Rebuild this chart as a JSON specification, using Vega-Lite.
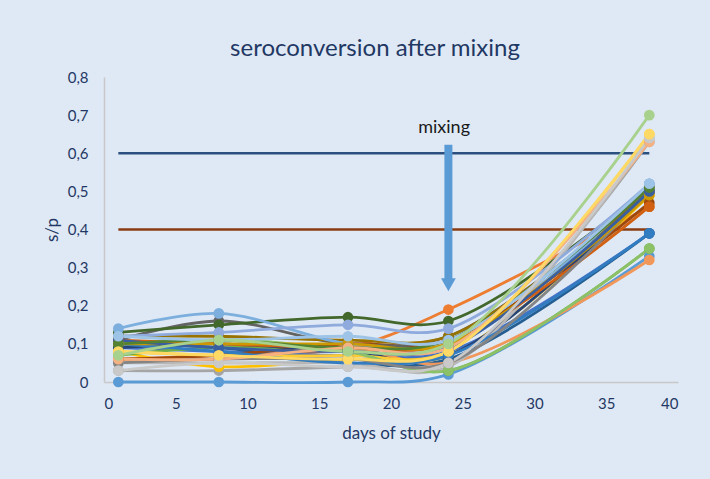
{
  "$schema": "https://vega.github.io/schema/vega-lite/v6.json",
  "autosize": {"type": "none"},
  "width": 574,
  "height": 305,
  "padding": {"left": 104, "top": 77, "right": 32, "bottom": 97},
  "background": "#dfe9f5",
  "title": {"text": "seroconversion after mixing", "font": "Lato", "fontSize": 24, "fontWeight": "normal", "color": "#1f3864", "anchor": "middle", "dx": -16, "dy": 30, "offset": 20, "baseline": "alphabetic"},
  "config": {
    "view": {"stroke": null},
    "axis": {"grid": false, "ticks": false, "labelOverlap": false, "domainColor": "#c8c8c8", "domainWidth": 1.5, "labelColor": "#1f3864", "titleColor": "#1f3864", "labelFont": "Lato", "titleFont": "Lato", "labelFontSize": 15, "titleFontSize": 17, "titleFontWeight": "normal"}
  },
  "datasets": {
    "series": [
      {"s": "s01", "d": 1, "v": 0}, {"s": "s01", "d": 8, "v": 0}, {"s": "s01", "d": 17, "v": 0}, {"s": "s01", "d": 24, "v": 0.02}, {"s": "s01", "d": 38, "v": 0.33},
      {"s": "s02", "d": 1, "v": 0.06}, {"s": "s02", "d": 8, "v": 0.07}, {"s": "s02", "d": 17, "v": 0.09}, {"s": "s02", "d": 24, "v": 0.19}, {"s": "s02", "d": 38, "v": 0.46},
      {"s": "s03", "d": 1, "v": 0.03}, {"s": "s03", "d": 8, "v": 0.03}, {"s": "s03", "d": 17, "v": 0.04}, {"s": "s03", "d": 24, "v": 0.05}, {"s": "s03", "d": 38, "v": 0.63},
      {"s": "s04", "d": 1, "v": 0.08}, {"s": "s04", "d": 8, "v": 0.04}, {"s": "s04", "d": 17, "v": 0.06}, {"s": "s04", "d": 24, "v": 0.07}, {"s": "s04", "d": 38, "v": 0.49},
      {"s": "s05", "d": 1, "v": 0.09}, {"s": "s05", "d": 8, "v": 0.08}, {"s": "s05", "d": 17, "v": 0.07}, {"s": "s05", "d": 24, "v": 0.08}, {"s": "s05", "d": 38, "v": 0.39},
      {"s": "s06", "d": 1, "v": 0.07}, {"s": "s06", "d": 8, "v": 0.09}, {"s": "s06", "d": 17, "v": 0.08}, {"s": "s06", "d": 24, "v": 0.03}, {"s": "s06", "d": 38, "v": 0.35},
      {"s": "s07", "d": 1, "v": 0.10}, {"s": "s07", "d": 8, "v": 0.09}, {"s": "s07", "d": 17, "v": 0.05}, {"s": "s07", "d": 24, "v": 0.06}, {"s": "s07", "d": 38, "v": 0.39},
      {"s": "s08", "d": 1, "v": 0.06}, {"s": "s08", "d": 8, "v": 0.07}, {"s": "s08", "d": 17, "v": 0.10}, {"s": "s08", "d": 24, "v": 0.11}, {"s": "s08", "d": 38, "v": 0.47},
      {"s": "s09", "d": 1, "v": 0.11}, {"s": "s09", "d": 8, "v": 0.16}, {"s": "s09", "d": 17, "v": 0.10}, {"s": "s09", "d": 24, "v": 0.12}, {"s": "s09", "d": 38, "v": 0.50},
      {"s": "s10", "d": 1, "v": 0.12}, {"s": "s10", "d": 8, "v": 0.12}, {"s": "s10", "d": 17, "v": 0.11}, {"s": "s10", "d": 24, "v": 0.12}, {"s": "s10", "d": 38, "v": 0.50},
      {"s": "s11", "d": 1, "v": 0.09}, {"s": "s11", "d": 8, "v": 0.10}, {"s": "s11", "d": 17, "v": 0.08}, {"s": "s11", "d": 24, "v": 0.07}, {"s": "s11", "d": 38, "v": 0.50},
      {"s": "s12", "d": 1, "v": 0.13}, {"s": "s12", "d": 8, "v": 0.15}, {"s": "s12", "d": 17, "v": 0.17}, {"s": "s12", "d": 24, "v": 0.16}, {"s": "s12", "d": 38, "v": 0.51},
      {"s": "s13", "d": 1, "v": 0.14}, {"s": "s13", "d": 8, "v": 0.18}, {"s": "s13", "d": 17, "v": 0.10}, {"s": "s13", "d": 24, "v": 0.09}, {"s": "s13", "d": 38, "v": 0.52},
      {"s": "s14", "d": 1, "v": 0.06}, {"s": "s14", "d": 8, "v": 0.06}, {"s": "s14", "d": 17, "v": 0.09}, {"s": "s14", "d": 24, "v": 0.05}, {"s": "s14", "d": 38, "v": 0.32},
      {"s": "s15", "d": 1, "v": 0.05}, {"s": "s15", "d": 8, "v": 0.05}, {"s": "s15", "d": 17, "v": 0.05}, {"s": "s15", "d": 24, "v": 0.04}, {"s": "s15", "d": 38, "v": 0.64},
      {"s": "s16", "d": 1, "v": 0.08}, {"s": "s16", "d": 8, "v": 0.07}, {"s": "s16", "d": 17, "v": 0.07}, {"s": "s16", "d": 24, "v": 0.08}, {"s": "s16", "d": 38, "v": 0.65},
      {"s": "s17", "d": 1, "v": 0.12}, {"s": "s17", "d": 8, "v": 0.13}, {"s": "s17", "d": 17, "v": 0.15}, {"s": "s17", "d": 24, "v": 0.14}, {"s": "s17", "d": 38, "v": 0.52},
      {"s": "s18", "d": 1, "v": 0.07}, {"s": "s18", "d": 8, "v": 0.11}, {"s": "s18", "d": 17, "v": 0.08}, {"s": "s18", "d": 24, "v": 0.03}, {"s": "s18", "d": 38, "v": 0.35},
      {"s": "s19", "d": 1, "v": 0.10}, {"s": "s19", "d": 8, "v": 0.08}, {"s": "s19", "d": 17, "v": 0.05}, {"s": "s19", "d": 24, "v": 0.07}, {"s": "s19", "d": 38, "v": 0.39},
      {"s": "s20", "d": 1, "v": 0.11}, {"s": "s20", "d": 8, "v": 0.10}, {"s": "s20", "d": 17, "v": 0.09}, {"s": "s20", "d": 24, "v": 0.10}, {"s": "s20", "d": 38, "v": 0.46},
      {"s": "s21", "d": 1, "v": 0.05}, {"s": "s21", "d": 8, "v": 0.06}, {"s": "s21", "d": 17, "v": 0.06}, {"s": "s21", "d": 24, "v": 0.05}, {"s": "s21", "d": 38, "v": 0.50},
      {"s": "s22", "d": 1, "v": 0.10}, {"s": "s22", "d": 8, "v": 0.10}, {"s": "s22", "d": 17, "v": 0.10}, {"s": "s22", "d": 24, "v": 0.10}, {"s": "s22", "d": 38, "v": 0.49},
      {"s": "s23", "d": 1, "v": 0.11}, {"s": "s23", "d": 8, "v": 0.09}, {"s": "s23", "d": 17, "v": 0.08}, {"s": "s23", "d": 24, "v": 0.09}, {"s": "s23", "d": 38, "v": 0.50},
      {"s": "s24", "d": 1, "v": 0.10}, {"s": "s24", "d": 8, "v": 0.11}, {"s": "s24", "d": 17, "v": 0.09}, {"s": "s24", "d": 24, "v": 0.11}, {"s": "s24", "d": 38, "v": 0.51},
      {"s": "s25", "d": 1, "v": 0.12}, {"s": "s25", "d": 8, "v": 0.11}, {"s": "s25", "d": 17, "v": 0.12}, {"s": "s25", "d": 24, "v": 0.11}, {"s": "s25", "d": 38, "v": 0.52},
      {"s": "s26", "d": 1, "v": 0.06}, {"s": "s26", "d": 8, "v": 0.06}, {"s": "s26", "d": 17, "v": 0.09}, {"s": "s26", "d": 24, "v": 0.09}, {"s": "s26", "d": 38, "v": 0.63},
      {"s": "s27", "d": 1, "v": 0.03}, {"s": "s27", "d": 8, "v": 0.05}, {"s": "s27", "d": 17, "v": 0.04}, {"s": "s27", "d": 24, "v": 0.05}, {"s": "s27", "d": 38, "v": 0.64},
      {"s": "s28", "d": 1, "v": 0.08}, {"s": "s28", "d": 8, "v": 0.07}, {"s": "s28", "d": 17, "v": 0.06}, {"s": "s28", "d": 24, "v": 0.08}, {"s": "s28", "d": 38, "v": 0.65},
      {"s": "s29", "d": 1, "v": 0.07}, {"s": "s29", "d": 8, "v": 0.11}, {"s": "s29", "d": 17, "v": 0.08}, {"s": "s29", "d": 24, "v": 0.10}, {"s": "s29", "d": 38, "v": 0.70}
    ],
    "refs": [
      {"r": "upper", "d": 1, "v": 0.6}, {"r": "upper", "d": 38, "v": 0.6},
      {"r": "lower", "d": 1, "v": 0.4}, {"r": "lower", "d": 38, "v": 0.4}
    ],
    "shaft": [{"d": 24, "v": 0.622, "v2": 0.27}],
    "head": [{"d": 24, "v": 0.255}],
    "note": [{"d": 23.7, "v": 0.665, "label": "mixing"}]
  },
  "encoding": {
    "x": {"field": "d", "type": "quantitative", "scale": {"domain": [0, 40]}, "axis": {"values": [0, 5, 10, 15, 20, 25, 30, 35, 40], "title": "days of study", "labelPadding": 14, "titlePadding": 14, "labelOverlap": false}},
    "y": {"field": "v", "type": "quantitative", "scale": {"domain": [0, 0.8]}, "axis": {"values": [0, 0.1, 0.2, 0.3, 0.4, 0.5, 0.6, 0.7, 0.8], "title": "s/p", "labelPadding": 16, "titlePadding": 6, "labelOverlap": false, "labelExpr": "datum.value == 0 ? '0' : replace(format(datum.value, '.1f'), '.', ',')"}}
  },
  "layer": [
    {
      "data": {"name": "refs"},
      "mark": {"type": "line", "strokeWidth": 2.5},
      "encoding": {
        "color": {"field": "r", "type": "nominal", "scale": {"domain": ["upper", "lower"], "range": ["#2b4f7e", "#8a3d12"]}, "legend": null}
      }
    },
    {
      "data": {"name": "series"},
      "mark": {"type": "line", "strokeWidth": 2.8, "interpolate": "catmull-rom"},
      "encoding": {
        "stroke": {"field": "s", "type": "nominal", "scale": {"domain": ["s01","s02","s03","s04","s05","s06","s07","s08","s09","s10","s11","s12","s13","s14","s15","s16","s17","s18","s19","s20","s21","s22","s23","s24","s25","s26","s27","s28","s29"], "range": ["#5B9BD5","#ED7D31","#A5A5A5","#FFC000","#4472C4","#70AD47","#255E91","#9E480E","#636363","#997300","#264478","#43682B","#7CAFDD","#F1975A","#B7B7B7","#FFCD33","#8FAADC","#8CC168","#327DC2","#D26012","#848484","#CC9A00","#3A5FA0","#548235","#9DC3E6","#F4B183","#C9C9C9","#FFD966","#A9D18E"]}, "legend": null}
      }
    },
    {
      "data": {"name": "series"},
      "mark": {"type": "point", "filled": true, "opacity": 1, "size": 115},
      "encoding": {
        "fill": {"field": "s", "type": "nominal", "scale": {"domain": ["s01","s02","s03","s04","s05","s06","s07","s08","s09","s10","s11","s12","s13","s14","s15","s16","s17","s18","s19","s20","s21","s22","s23","s24","s25","s26","s27","s28","s29"], "range": ["#5B9BD5","#ED7D31","#A5A5A5","#FFC000","#4472C4","#70AD47","#255E91","#9E480E","#636363","#997300","#264478","#43682B","#7CAFDD","#F1975A","#B7B7B7","#FFCD33","#8FAADC","#8CC168","#327DC2","#D26012","#848484","#CC9A00","#3A5FA0","#548235","#9DC3E6","#F4B183","#C9C9C9","#FFD966","#A9D18E"]}, "legend": null}
      }
    },
    {
      "data": {"name": "shaft"},
      "mark": {"type": "rule", "strokeWidth": 8, "color": "#5B9BD5"},
      "encoding": {
        "y2": {"field": "v2"}
      }
    },
    {
      "data": {"name": "head"},
      "mark": {"type": "point", "shape": "triangle-down", "filled": true, "opacity": 1, "size": 220, "color": "#5B9BD5"},
      "encoding": {}
    },
    {
      "data": {"name": "note"},
      "mark": {"type": "text", "font": "Lato", "fontSize": 18, "color": "#1a1a1a", "baseline": "middle", "align": "center"},
      "encoding": {
        "text": {"field": "label"}
      }
    }
  ]
}
